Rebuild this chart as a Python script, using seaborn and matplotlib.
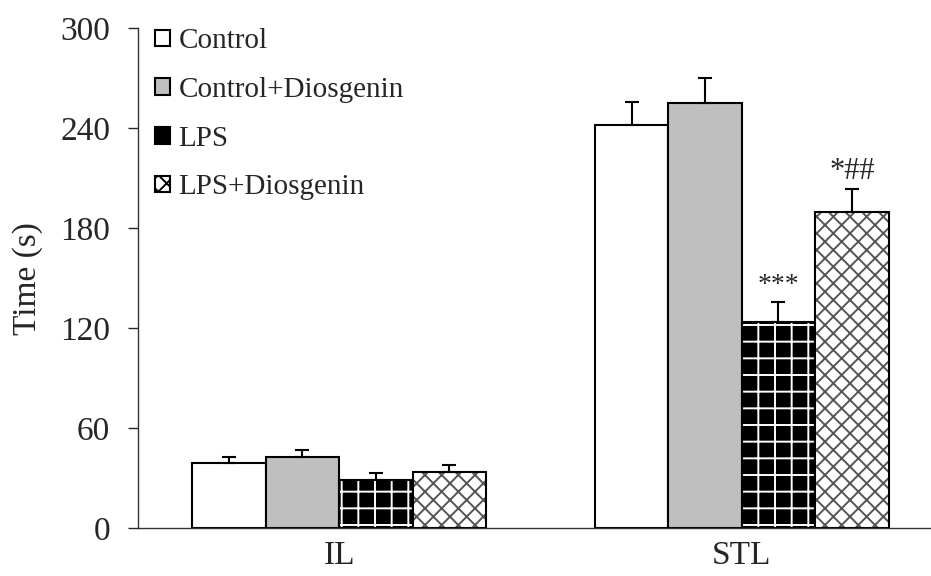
import pandas as pd
import numpy as np
import matplotlib
matplotlib.use('Agg')
import matplotlib.pyplot as plt
import matplotlib.colors as mcolors
from matplotlib.patches import Patch
import seaborn as sns

# datos
tests = ['IL', 'STL']
groups = ['Control', 'Control+Diosgenin', 'LPS', 'LPS+Diosgenin']
mean_il = [39, 43, 29, 34]
sem_il = [4, 4, 4, 4]
mean_stl = [242, 255, 124, 190]
sem_stl = [14, 15, 12, 13.5]
stars_stl = ['', '', '***', '*##']

colors = ['white', '#bfbfbf', 'black', 'white']
hatches = ['', '', '+', 'xx']
hatch_colors = ['black', 'black', 'white', '#555555']

df = pd.DataFrame({
    'Test': np.repeat(tests, len(groups)),
    'Group': groups * len(tests),
    'Time': mean_il + mean_stl,
    'SEM': sem_il + sem_stl,
})

sns.set_style('white')
plt.rcParams['font.family'] = ['Liberation Serif', 'DejaVu Serif']
plt.rcParams['hatch.linewidth'] = 1.4

fig = plt.figure(figsize=(9.31, 5.76), dpi=100)
ax = fig.add_axes([0.148, 0.083, 0.852, 0.868])

sns.barplot(data=df, x='Test', y='Time', hue='Group', hue_order=groups,
            palette=colors, width=0.73, edgecolor='black', linewidth=1.5,
            errorbar=None, legend=False, ax=ax)

# tramas y barras de error
for cont, g, h, hc in zip(ax.containers, groups, hatches, hatch_colors):
    sub = df[df['Group'] == g].set_index('Test')
    xs, ys, es = [], [], []
    for bar, t in zip(cont, tests):
        bar.set_edgecolor('black')
        if h:
            bar.set_hatch(h)
            bar._hatch_color = mcolors.to_rgba(hc)
        xs.append(bar.get_x() + bar.get_width() / 2)
        ys.append(bar.get_height())
        es.append(sub.loc[t, 'SEM'])
    ax.errorbar(xs, ys, yerr=[np.zeros(len(es)), es], fmt='none', ecolor='black',
                elinewidth=1.5, capsize=5, capthick=1.5, zorder=1)

# asteriscos de significancia (STL)
stl_cont = [c[1] for c in ax.containers]
for bar, s, e in zip(stl_cont, stars_stl, sem_stl):
    if s:
        fs = 20 if s == '***' else 22
        ax.text(bar.get_x() + bar.get_width() / 2, bar.get_height() + e + 2, s,
                ha='center', va='bottom', fontsize=fs)

ax.set_ylim(0, 300)
ax.set_xlim(-0.5, 1.47)
ax.set_yticks([0, 60, 120, 180, 240, 300])
ax.set_xlabel('')
ax.set_ylabel('Time (s)', fontsize=24, labelpad=12)
ax.tick_params(axis='y', labelsize=24, length=7, width=1, direction='out', left=True, pad=13)
ax.tick_params(axis='x', labelsize=24, length=0, pad=9)
for sp in ['top', 'right']:
    ax.spines[sp].set_visible(False)
for sp in ['left', 'bottom']:
    ax.spines[sp].set_color('#333333')
    ax.spines[sp].set_linewidth(1.0)

handles = [Patch(facecolor=c, edgecolor='black', hatch=h, linewidth=1.5, label=g)
           for c, h, g in zip(colors, hatches, groups)]
leg = ax.legend(handles=handles, loc='upper left', bbox_to_anchor=(0.022, 1.0),
                frameon=False, fontsize=21, handlelength=0.5, handleheight=0.5,
                handletextpad=0.3, labelspacing=0.78, borderpad=0, borderaxespad=0)

fig.savefig('out.png', dpi=100)
